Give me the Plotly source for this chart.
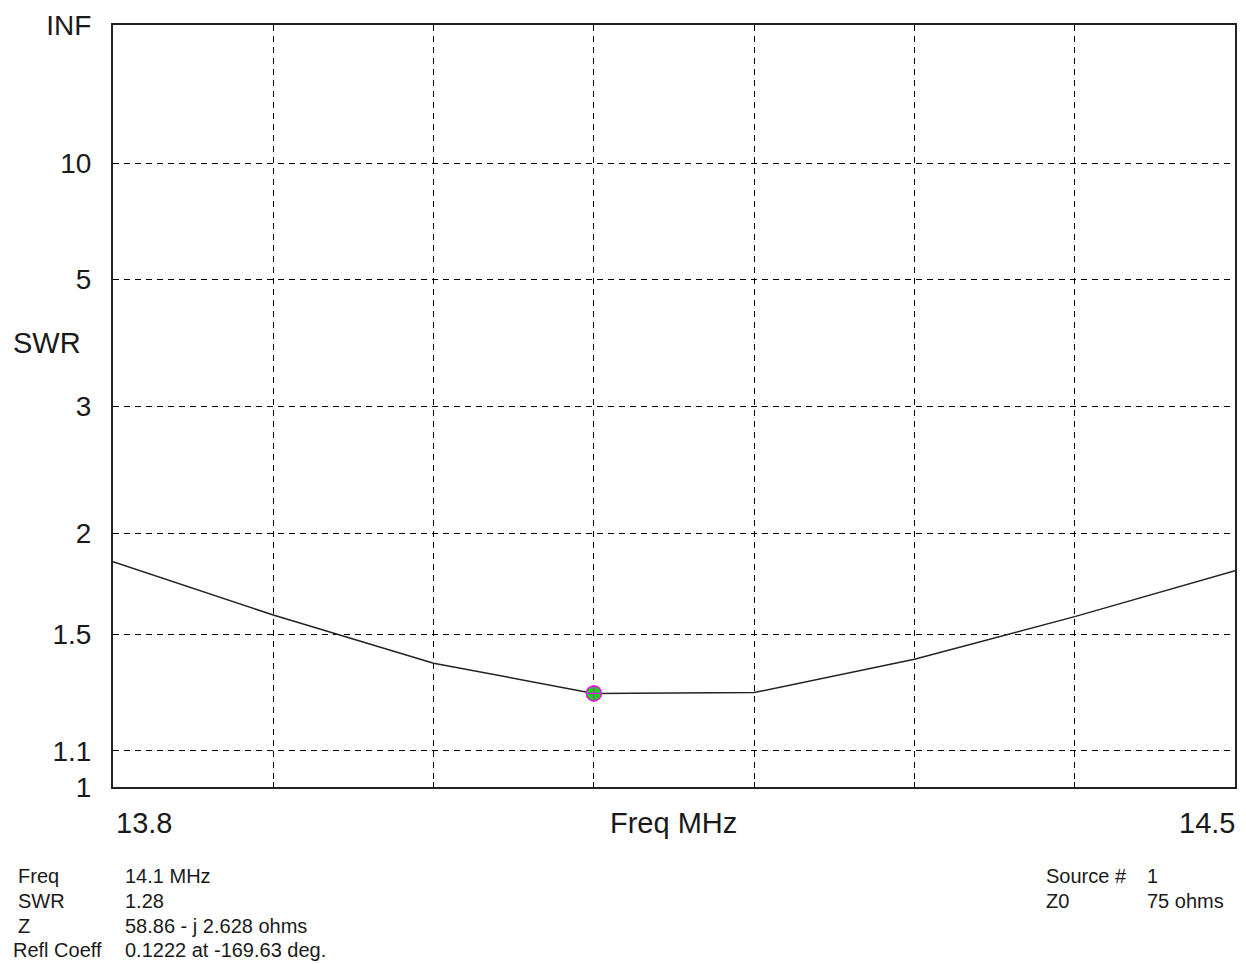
import plotly.graph_objects as go

# Data
freq_mhz = [13.8, 13.9, 14.0, 14.1, 14.2, 14.3, 14.4, 14.5]
swr = [1.84, 1.583, 1.388, 1.28, 1.283, 1.403, 1.576, 1.793]
marker_freq = [14.1]
marker_swr = [1.28]

swr_tick_values = [1.0, 1.1, 1.5, 2.0, 3.0, 5.0, 10.0, float("inf")]
swr_tick_labels = ["1", "1.1", "1.5", "2", "3", "5", "10", "INF"]
freq_grid = [13.9, 14.0, 14.1, 14.2, 14.3, 14.4]
freq_min, freq_max = 13.8, 14.5

info_labels = ["Freq", "SWR", "Z", "Refl Coeff"]
info_values = ["14.1 MHz", "1.28", "58.86 - j 2.628 ohms", "0.1222 at -169.63 deg."]
src_labels = ["Source #", "Z0"]
src_values = ["1", "75 ohms"]


def rho(s):
    if s == float("inf"):
        return 1.0
    return (s - 1.0) / (s + 1.0)


FONT = "Liberation Sans, Arial, sans-serif"
TXT = "#1a1a1a"

# page geometry (the page body adds an 8px offset)
OFF = 8
PX0, PX1, PY0, PY1 = 113, 1235, 25, 787
W, H = 1246 - OFF, 964 - OFF


def px(x):
    return (x - PX0) / (PX1 - PX0)


def py(y):
    return (PY1 - y) / (PY1 - PY0)


fig = go.Figure()
fig.add_trace(go.Scatter(
    x=freq_mhz, y=[rho(s) for s in swr], mode="lines",
    line=dict(color="#222222", width=1.5), hoverinfo="skip", showlegend=False))
fig.add_trace(go.Scatter(
    x=marker_freq, y=[rho(s) for s in marker_swr], mode="markers",
    marker=dict(symbol="circle", size=15, color="#00e000",
                line=dict(color="#ff00ff", width=1.5)),
    showlegend=False))
fig.add_trace(go.Scatter(
    x=marker_freq, y=[rho(s) for s in marker_swr], mode="markers",
    marker=dict(symbol="cross-thin", size=9, color="#ff00ff",
                line=dict(color="#ff00ff", width=1.2)),
    showlegend=False))

fig.update_xaxes(
    range=[freq_min, freq_max], tickvals=freq_grid, showticklabels=False,
    showgrid=True, gridcolor="black", gridwidth=1, griddash="6px,5px",
    showline=True, linecolor="#222222", linewidth=2, mirror=True,
    zeroline=False, ticks="inside", ticklen=5, tickcolor="black",
    automargin=False)
fig.update_yaxes(
    range=[0, 1], tickvals=[rho(s) for s in swr_tick_values],
    ticktext=swr_tick_labels, showgrid=True, gridcolor="black", gridwidth=1,
    griddash="6px,5px", showline=True, linecolor="#222222", linewidth=2,
    mirror=True, zeroline=False, ticks="inside", ticklen=5, tickcolor="black",
    ticklabelstandoff=14, automargin=False,
    tickfont=dict(family=FONT, size=28, color=TXT))

big = dict(family=FONT, size=29, color=TXT)
small = dict(family=FONT, size=20, color=TXT)

fig.add_annotation(x=px(114), y=py(823), xref="paper", yref="paper",
                   xanchor="left", yanchor="middle", text="13.8",
                   showarrow=False, font=big)
fig.add_annotation(x=px(1237), y=py(823), xref="paper", yref="paper",
                   xanchor="right", yanchor="middle", text="14.5",
                   showarrow=False, font=big)
fig.add_annotation(x=px(673), y=py(823), xref="paper", yref="paper",
                   xanchor="center", yanchor="middle", text="Freq MHz",
                   showarrow=False, font=big)
fig.add_annotation(x=px(47), y=py(343), xref="paper", yref="paper",
                   xanchor="center", yanchor="middle", text="SWR",
                   showarrow=False, font=big)

row_y = [876, 901, 926, 950]
label_x = [16, 16, 16, 11]
for i, (lab, val) in enumerate(zip(info_labels, info_values)):
    fig.add_annotation(x=px(label_x[i]), y=py(row_y[i]), xref="paper", yref="paper",
                       text=lab, showarrow=False, xanchor="left", yanchor="middle",
                       font=small)
    fig.add_annotation(x=px(123), y=py(row_y[i]), xref="paper", yref="paper",
                       text=val, showarrow=False, xanchor="left", yanchor="middle",
                       font=small)
for i, (lab, val) in enumerate(zip(src_labels, src_values)):
    fig.add_annotation(x=px(1044), y=py(row_y[i]), xref="paper", yref="paper",
                       text=lab, showarrow=False, xanchor="left", yanchor="middle",
                       font=small)
    fig.add_annotation(x=px(1145), y=py(row_y[i]), xref="paper", yref="paper",
                       text=val, showarrow=False, xanchor="left", yanchor="middle",
                       font=small)

fig.update_layout(
    width=W, height=H,
    margin=dict(l=PX0 - OFF, r=W - (PX1 - OFF), t=PY0 - OFF, b=H - (PY1 - OFF)),
    paper_bgcolor="white", plot_bgcolor="white",
    font=dict(family=FONT, color=TXT),
    showlegend=False)

fig.write_html("out.html")
